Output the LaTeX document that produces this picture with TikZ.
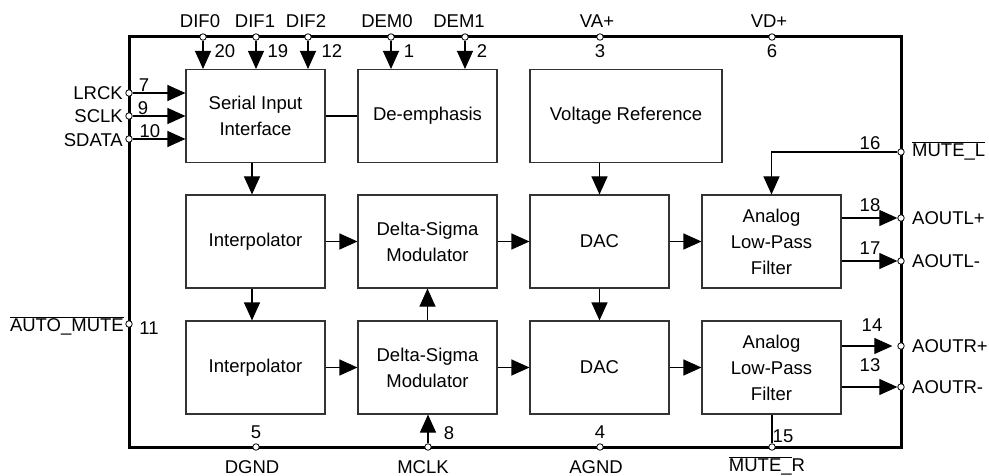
\documentclass[tikz,border=0pt]{standalone}
\usepackage{fontspec}
\setmainfont{Liberation Sans}
\usetikzlibrary{arrows.meta,calc}
\newcommand{\fs}{\fontsize{18.5}{26}\selectfont}
\newcommand{\ovl}[1]{$\overline{\mbox{#1}}$}
\begin{document}
\begin{tikzpicture}[x=1pt,y=-1pt]
\tikzset{
 blk/.style={draw=black!80, line width=1.1pt, minimum height=93pt, align=center, font=\fs, inner sep=0pt},
 pinc/.style={circle, draw, fill=white, inner sep=0pt, minimum size=6.5pt, line width=0.8pt},
 con/.style={line width=1.1pt},
 arr/.style={con, -{Triangle[length=18pt,width=16pt]}},
 lab/.style={font=\fs, inner sep=1pt},
}
\useasboundingbox (0,0) rectangle (989,476);
% outer chip
\draw[line width=3pt] (129,37) rectangle (901,447);
% blocks
\node[blk, minimum width=139pt] (ser) at (255.5,116) {Serial Input\\Interface};
\node[blk, minimum width=139pt] (dem) at (427.5,116) {De-emphasis};
\node[blk, minimum width=192pt] (vref) at (626,116) {Voltage Reference};
\node[blk, minimum width=139pt] (int1) at (255.5,241.5) {Interpolator};
\node[blk, minimum width=139pt] (dsm1) at (427.5,241.5) {Delta-Sigma\\Modulator};
\node[blk, minimum width=139pt] (dac1) at (599.5,241.5) {DAC};
\node[blk, minimum width=139pt] (flt1) at (771.5,241.5) {Analog\\Low-Pass\\Filter};
\node[blk, minimum width=139pt] (int2) at (255.5,367.5) {Interpolator};
\node[blk, minimum width=139pt] (dsm2) at (427.5,367.5) {Delta-Sigma\\Modulator};
\node[blk, minimum width=139pt] (dac2) at (599.5,367.5) {DAC};
\node[blk, minimum width=139pt] (flt2) at (771.5,367.5) {Analog\\Low-Pass\\Filter};
% pins
\node[pinc] (p20) at (203,37) {};
\node[pinc] (p19) at (256,37) {};
\node[pinc] (p12) at (308,37) {};
\node[pinc] (p1) at (391,37) {};
\node[pinc] (p2) at (465,37) {};
\node[pinc] (p3) at (600,37) {};
\node[pinc] (p6) at (772,37) {};
\node[pinc] (p7) at (129,93) {};
\node[pinc] (p9) at (129,116) {};
\node[pinc] (p10) at (129,139) {};
\node[pinc] (p11) at (129,324) {};
\node[pinc] (p5) at (256,447) {};
\node[pinc] (p8) at (428,447) {};
\node[pinc] (p4) at (600,447) {};
\node[pinc] (p15) at (772,447) {};
\node[pinc] (p16) at (901,152) {};
\node[pinc] (p18) at (901,218) {};
\node[pinc] (p17) at (901,261) {};
\node[pinc] (p14) at (901,346) {};
\node[pinc] (p13) at (901,387) {};
% connectors
\draw[arr] (p20) -- (ser.north -| p20);
\draw[arr] (p19) -- (ser.north -| p19);
\draw[arr] (p12) -- (ser.north -| p12);
\draw[arr] (p1) -- (dem.north -| p1);
\draw[arr] (p2) -- (dem.north -| p2);
\draw[arr] (p7) -- (p7 -| ser.west);
\draw[arr] (p9) -- (p9 -| ser.west);
\draw[arr] (p10) -- (p10 -| ser.west);
\draw[con] (ser.east) -- (dem.west);
\draw[arr] ([xshift=-3.5pt]ser.south) -- ([xshift=-3.5pt]int1.north);
\draw[arr] ([xshift=-3.5pt]int1.south) -- ([xshift=-3.5pt]int2.north);
\draw[arr] (vref.south -| dac1) -- (dac1.north);
\draw[arr] (dac1.south) -- (dac2.north);
\draw[arr] (int1.east) -- (dsm1.west);
\draw[arr] (dsm1.east) -- (dac1.west);
\draw[arr] (dac1.east) -- (flt1.west);
\draw[arr] (int2.east) -- (dsm2.west);
\draw[arr] (dsm2.east) -- (dac2.west);
\draw[arr] (dac2.east) -- (flt2.west);
\draw[arr] (dsm2.north) -- (dsm1.south);
\draw[arr] (p8) -- (dsm2.south -| p8);
\draw[con] (flt2.south -| p15) -- (p15);
\draw[arr] (p16) -| (flt1.north);
\draw[arr] (flt1.east |- p18) -- (p18);
\draw[arr] (flt1.east |- p17) -- (p17);
\draw[arr] (flt2.east |- p14) -- ([xshift=-5pt]p14.west);
\draw[arr] (flt2.east |- p13) -- (p13);
% pin names
\node[lab] (lDIF0) at (200,21) {DIF0};
\node[lab] (lDIF1) at (255,21) {DIF1};
\node[lab] (lDIF2) at (306,21) {DIF2};
\node[lab] (lDEM0) at (387,21) {DEM0};
\node[lab] (lDEM1) at (459,21) {DEM1};
\node[lab] (lVA) at (597,21) {VA+};
\node[lab] (lVD) at (769,21) {VD+};
\node[lab, anchor=east] (lLRCK) at (124,93) {LRCK};
\node[lab, anchor=east] (lSCLK) at (124,116) {SCLK};
\node[lab, anchor=east] (lSDATA) at (124,140) {SDATA};
\node[lab, anchor=east] (lAM) at (125,326) {\ovl{AUTO\_MUTE}};
\node[lab] (lDGND) at (252,467) {DGND};
\node[lab] (lMCLK) at (423,467) {MCLK};
\node[lab] (lAGND) at (596,467) {AGND};
\node[lab] (lMR) at (767,466) {\ovl{MUTE\_}R};
\node[lab, anchor=west] (lML) at (911,151) {\ovl{MUTE\_L}};
\node[lab, anchor=west] (lAOLp) at (911,218) {AOUTL+};
\node[lab, anchor=west] (lAOLm) at (911,261) {AOUTL-};
\node[lab, anchor=west] (lAORp) at (911,346) {AOUTR+};
\node[lab, anchor=west] (lAORm) at (911,387) {AOUTR-};
% pin numbers
\node[lab] (n20) at (225,51) {20};
\node[lab] (n19) at (278,51) {19};
\node[lab] (n12) at (332,51) {12};
\node[lab] (n1) at (409,51) {1};
\node[lab] (n2) at (482,51) {2};
\node[lab] (n3) at (600,51) {3};
\node[lab] (n6) at (772,51) {6};
\node[lab] (n7) at (144,85) {7};
\node[lab] (n9) at (143,108) {9};
\node[lab] (n10) at (150,131) {10};
\node[lab] (n11) at (149,328) {11};
\node[lab] (n5) at (256,432) {5};
\node[lab] (n8) at (449,433) {8};
\node[lab] (n4) at (600,432) {4};
\node[lab] (n15) at (783,436) {15};
\node[lab] (n16) at (870,143) {16};
\node[lab] (n18) at (870,205) {18};
\node[lab] (n17) at (870,248) {17};
\node[lab] (n14) at (872,325) {14};
\node[lab] (n13) at (870,365) {13};
\end{tikzpicture}
\end{document}
